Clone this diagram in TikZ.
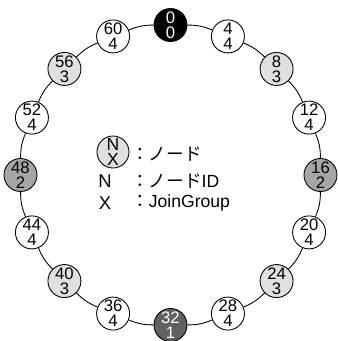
\documentclass[tikz,border=0pt]{standalone}
\usepackage{fontspec}
\setmainfont{Liberation Sans}
\newfontfamily\jpfont{Noto Sans CJK JP}
\usetikzlibrary{shapes}
\usetikzlibrary{arrows}

\tikzset{
  peer/.style={draw, circle, minimum size=0.66cm, inner sep=0pt, align=center,
    line width=0.5pt, fill=white, font=\fontsize{9.5}{8.6}\selectfont},
  root/.style={peer, fill=black, text=white},
  grpone/.style={peer, fill=black!62, text=white},
  grptwo/.style={peer, fill=black!35},
  grpthree/.style={peer, fill=black!12},
  ring/.style={line width=0.5pt, bend left=11}
}

\begin{document}
\begin{tikzpicture}
\useasboundingbox (-3.41,-3.32) rectangle (3.33,3.5);
\node[root] (n0) at (90:3) {0\\0};
\node[peer] (n4) at (67.5:3) {4\\4};
\node[grpthree] (n8) at (45:3) {8\\3};
\node[peer] (n12) at (22.5:3) {12\\4};
\node[grptwo] (n16) at (0:3) {16\\2};
\node[peer] (n20) at (-22.5:3) {20\\4};
\node[grpthree] (n24) at (-45:3) {24\\3};
\node[peer] (n28) at (-67.5:3) {28\\4};
\node[grpone] (n32) at (-90:3) {32\\1};
\node[peer] (n36) at (-112.5:3) {36\\4};
\node[grpthree] (n40) at (-135:3) {40\\3};
\node[peer] (n44) at (-157.5:3) {44\\4};
\node[grptwo] (n48) at (180:3) {48\\2};
\node[peer] (n52) at (157.5:3) {52\\4};
\node[grpthree] (n56) at (135:3) {56\\3};
\node[peer] (n60) at (112.5:3) {60\\4};
\draw[ring] (n0) to (n4);
\draw[ring] (n4) to (n8);
\draw[ring] (n8) to (n12);
\draw[ring] (n12) to (n16);
\draw[ring] (n16) to (n20);
\draw[ring] (n20) to (n24);
\draw[ring] (n24) to (n28);
\draw[ring] (n28) to (n32);
\draw[ring] (n32) to (n36);
\draw[ring] (n36) to (n40);
\draw[ring] (n40) to (n44);
\draw[ring] (n44) to (n48);
\draw[ring] (n48) to (n52);
\draw[ring] (n52) to (n56);
\draw[ring] (n56) to (n60);
\draw[ring] (n60) to (n0);
\node[grpthree, minimum size=0.64cm, font=\fontsize{10}{8.6}\selectfont] (key) at (-1.15,0.46) {N\\X};
\node[anchor=west, inner sep=0pt, font=\fontsize{10}{12}\selectfont] (keynode) at (-0.79,0.41) {\jpfont ：ノード};
\node[inner sep=0pt, font=\fontsize{10.5}{12}\selectfont] (keyn) at (-1.31,-0.12) {N};
\node[anchor=west, inner sep=0pt, font=\fontsize{10}{12}\selectfont] (keyid) at (-0.79,-0.12) {{\jpfont ：ノード}ID};
\node[inner sep=0pt, font=\fontsize{10.5}{12}\selectfont] (keyx) at (-1.31,-0.56) {X};
\node[anchor=west, inner sep=0pt, font=\fontsize{10}{12}\selectfont] (keygrp) at (-0.79,-0.56) {{\jpfont ：}JoinGroup};
\end{tikzpicture}
\end{document}
